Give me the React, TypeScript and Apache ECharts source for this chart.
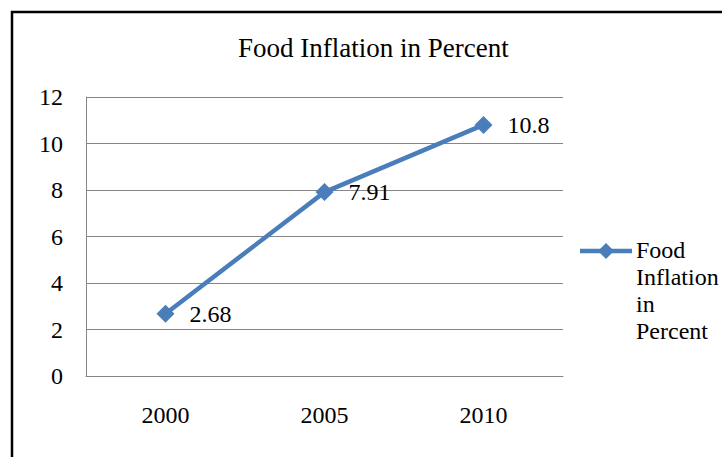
import React, { useEffect, useRef } from "react";
import * as echarts from "echarts";

const years = ["2000", "2005", "2010"];
const foodInflation = [2.68, 7.91, 10.8];
const seriesName = "Food Inflation in Percent";
const legendLines = ["Food", "Inflation", "in", "Percent"];

const SERIF = "Liberation Serif, Times New Roman, serif";
const BLUE = "#4A7EBB";
const GRID_GRAY = "#868686";

export default function App() {
  const ref = useRef<HTMLDivElement>(null);

  useEffect(() => {
    if (!ref.current) return;
    const chart = echarts.init(ref.current, undefined, { renderer: "svg" });
    chart.setOption({
      animation: false,
      backgroundColor: "#ffffff",
      title: {
        text: seriesName,
        left: 233,
        top: 29,
        textStyle: {
          fontFamily: SERIF,
          fontSize: 27,
          fontWeight: "normal",
          color: "#000",
        },
      },
      grid: { left: 86, top: 97, right: 159, bottom: 81, containLabel: false },
      xAxis: {
        type: "category",
        data: years,
        boundaryGap: true,
        axisLine: { show: true, lineStyle: { color: GRID_GRAY, width: 1 } },
        axisTick: { show: false },
        axisLabel: {
          margin: 27,
          fontFamily: SERIF,
          fontSize: 24,
          color: "#000",
        },
        splitLine: { show: false },
      },
      yAxis: {
        type: "value",
        min: 0,
        max: 12,
        interval: 2,
        axisLine: { show: true, lineStyle: { color: GRID_GRAY, width: 1 } },
        axisTick: { show: false },
        axisLabel: {
          margin: 23,
          fontFamily: SERIF,
          fontSize: 24,
          color: "#000",
        },
        splitLine: { show: true, lineStyle: { color: GRID_GRAY, width: 1 } },
      },
      series: [
        {
          name: seriesName,
          type: "line",
          data: foodInflation,
          symbol: "diamond",
          symbolSize: 18,
          lineStyle: { color: BLUE, width: 4.5 },
          itemStyle: { color: BLUE },
          label: {
            show: true,
            position: "right",
            distance: 15,
            fontFamily: SERIF,
            fontSize: 24,
            color: "#000",
          },
        },
      ],
      graphic: [
        // frame around the chart (top and left edges)
        {
          type: "polyline",
          shape: { points: [[12, 457], [12, 12], [722, 12]] },
          style: { stroke: "#000", lineWidth: 2.5, fill: "none" },
          silent: true,
        },
        // legend
        {
          type: "group",
          x: 580,
          y: 251,
          children: [
            {
              type: "line",
              shape: { x1: 0, y1: 0, x2: 52, y2: 0 },
              style: { stroke: BLUE, lineWidth: 4.5 },
            },
            {
              type: "polygon",
              shape: { points: [[26, -8], [34, 0], [26, 8], [18, 0]] },
              style: { fill: BLUE },
            },
            {
              type: "text",
              x: 56,
              y: -15,
              style: {
                text: legendLines.join("\n"),
                fontFamily: SERIF,
                fontSize: 24,
                lineHeight: 27,
                fill: "#000",
                textVerticalAlign: "top",
              },
            },
          ],
        },
      ],
    });
    return () => chart.dispose();
  }, []);

  return (
    <div
      ref={ref}
      style={{ position: "fixed", left: 0, top: 0, width: 722, height: 457 }}
    />
  );
}
